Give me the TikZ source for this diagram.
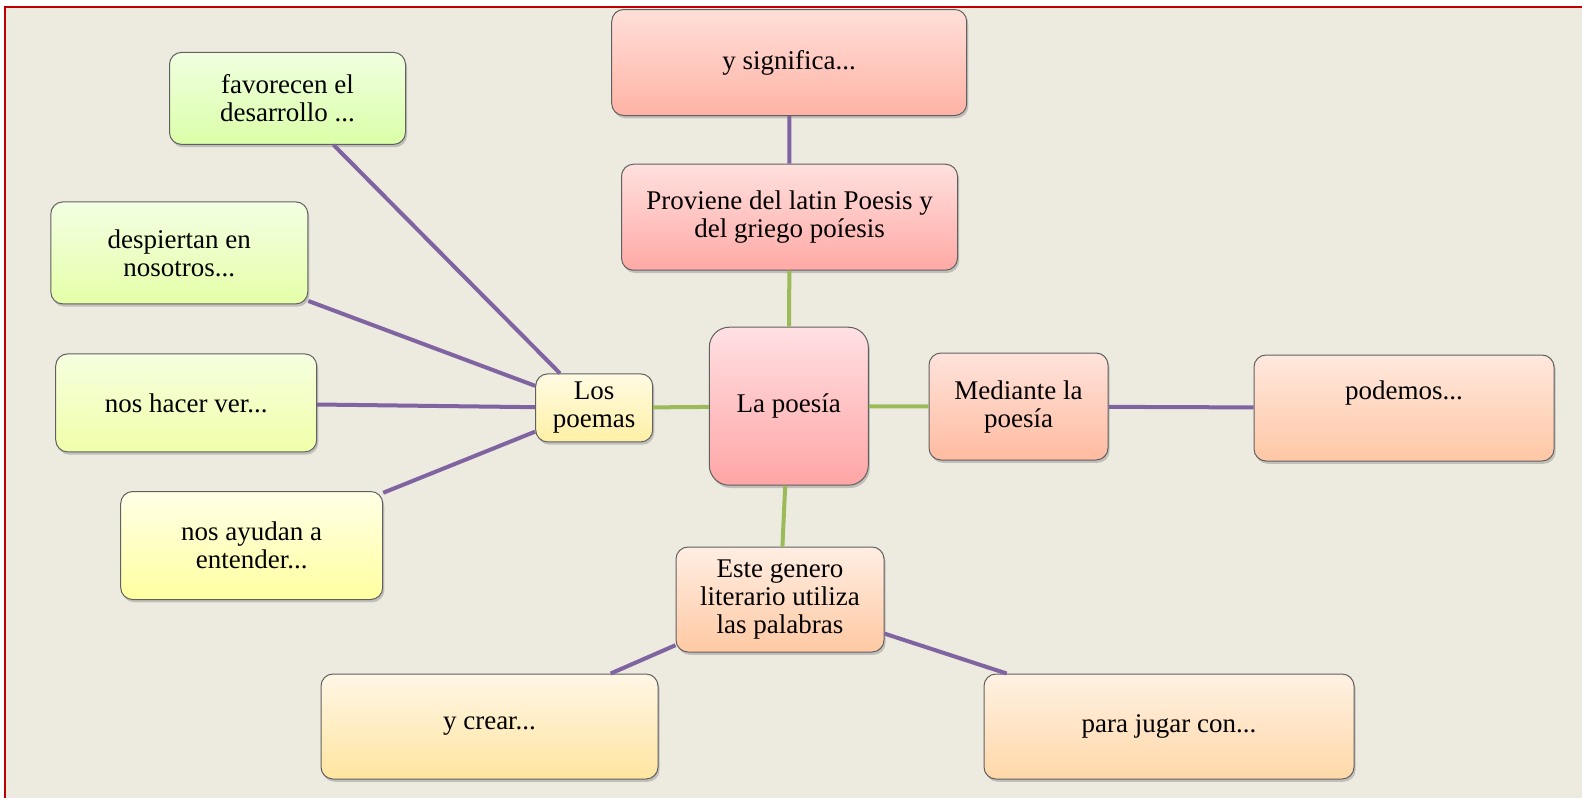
\documentclass[tikz,border=0pt]{standalone}
\usepackage{fontspec}
\setmainfont{Liberation Serif}
\usepackage{tikz}
\usetikzlibrary{shadows}
\definecolor{bgpaper}{HTML}{EDEAE0}
\definecolor{framered}{HTML}{C00000}
\definecolor{linkpurple}{HTML}{8064A2}
\definecolor{linkgreen}{HTML}{9BBB59}
\definecolor{favtop}{HTML}{F0FFE0}\definecolor{favbot}{HTML}{DBFFA8}
\definecolor{desptop}{HTML}{F3FFE3}\definecolor{despbot}{HTML}{E5FFA8}
\definecolor{vertop}{HTML}{F6FFE0}\definecolor{verbot}{HTML}{F0FFA8}
\definecolor{ayutop}{HTML}{FFFFE6}\definecolor{ayubot}{HTML}{FFFFA0}
\definecolor{poetop}{HTML}{FFFBE3}\definecolor{poebot}{HTML}{FFF0A5}
\definecolor{lpotop}{HTML}{FFE0E3}\definecolor{lpobot}{HTML}{FFA5A5}
\definecolor{sigtop}{HTML}{FFDFD9}\definecolor{sigbot}{HTML}{FFB3A5}
\definecolor{protop}{HTML}{FFE0DE}\definecolor{probot}{HTML}{FFA9A5}
\definecolor{medtop}{HTML}{FFE3DB}\definecolor{medbot}{HTML}{FFBBA0}
\definecolor{podtop}{HTML}{FFE8DD}\definecolor{podbot}{HTML}{FFC7A5}
\definecolor{gentop}{HTML}{FFEEE3}\definecolor{genbot}{HTML}{FFC9A3}
\definecolor{cretop}{HTML}{FFF6E6}\definecolor{crebot}{HTML}{FFE5A0}
\definecolor{jugtop}{HTML}{FFF1E3}\definecolor{jugbot}{HTML}{FFD8A8}
\tikzset{mapbox/.style n args={2}{
    draw=gray!75!black, line width=0.5pt, rounded corners=6pt,
    top color=#1, bottom color=#2,
    drop shadow={shadow xshift=0.8pt, shadow yshift=-1.4pt, opacity=0.4},
    align=center, inner sep=2pt,
    font=\fontsize{13.5}{14}\selectfont
  },
  purplelink/.style={draw=linkpurple, line width=2pt},
  greenlink/.style={draw=linkgreen, line width=2pt}
}

\begin{document}
\begin{tikzpicture}[x=0.5pt, y=-0.5pt]
      \useasboundingbox (0,0) rectangle (1582,798);
      \fill[white] (0,0) rectangle (1582,798);
      \fill[bgpaper] (5,7) rectangle (1582,798);
      \draw[framered, line width=1pt] (5,798) -- (5,7) -- (1582,7);
      \node[mapbox={favtop}{favbot}, minimum width=118pt, minimum height=46pt] (favorecen) at (287.5,98.4) {favorecen el\\desarrollo ...};
      \node[mapbox={desptop}{despbot}, minimum width=128.5pt, minimum height=51pt] (despiertan) at (179.3,252.9) {despiertan en\\nosotros...};
      \node[mapbox={vertop}{verbot}, minimum width=130.5pt, minimum height=49pt] (hacerver) at (186.2,402.9) {nos hacer ver...};
      \node[mapbox={ayutop}{ayubot}, minimum width=131pt, minimum height=54pt] (ayudan) at (251.7,545.5) {nos ayudan a\\entender...};
      \node[mapbox={poetop}{poebot}, minimum width=58.5pt, minimum height=34pt] (poemas) at (594.2,407.9) {Los\\poemas};
      \node[mapbox={lpotop}{lpobot}, rounded corners=10pt, minimum width=79.5pt, minimum height=79pt] (poesia) at (788.8,406.2) {La poesía};
      \node[mapbox={sigtop}{sigbot}, minimum width=177.5pt, minimum height=53pt] (significa) at (789.2,62.5) {y significa...};
      \node[mapbox={protop}{probot}, minimum width=168pt, minimum height=53pt] (proviene) at (789.5,217.2) {Proviene del latin Poesis y\\del griego poíesis};
      \node[mapbox={medtop}{medbot}, minimum width=89.5pt, minimum height=53.5pt] (mediante) at (1018.5,406.5) {Mediante la\\poesía};
      \node[mapbox={podtop}{podbot}, text height=9.5pt, text depth=18pt, minimum width=150pt, minimum height=53pt] (podemos) at (1404,408) {podemos...};
      \node[mapbox={gentop}{genbot}, minimum width=104pt, minimum height=52.5pt] (genero) at (780,599.5) {Este genero\\literario utiliza\\las palabras};
      \node[mapbox={cretop}{crebot}, minimum width=168.5pt, minimum height=52.5pt] (crear) at (489.5,726.5) {y crear...};
      \node[mapbox={jugtop}{jugbot}, minimum width=185pt, minimum height=52.5pt] (jugar) at (1169,726.5) {para jugar con...};
      \draw[greenlink] (poesia) -- (poemas);
      \draw[greenlink] (poesia) -- (proviene);
      \draw[greenlink] (poesia) -- (mediante);
      \draw[greenlink] (poesia) -- (genero);
      \draw[purplelink] (poemas) -- (favorecen);
      \draw[purplelink] (poemas) -- (despiertan);
      \draw[purplelink] (poemas) -- (hacerver);
      \draw[purplelink] (poemas) -- (ayudan);
      \draw[purplelink] (proviene) -- (significa);
      \draw[purplelink] (mediante) -- (podemos);
      \draw[purplelink] (genero) -- (crear);
      \draw[purplelink] (genero) -- (jugar);
    \end{tikzpicture}
\end{document}
